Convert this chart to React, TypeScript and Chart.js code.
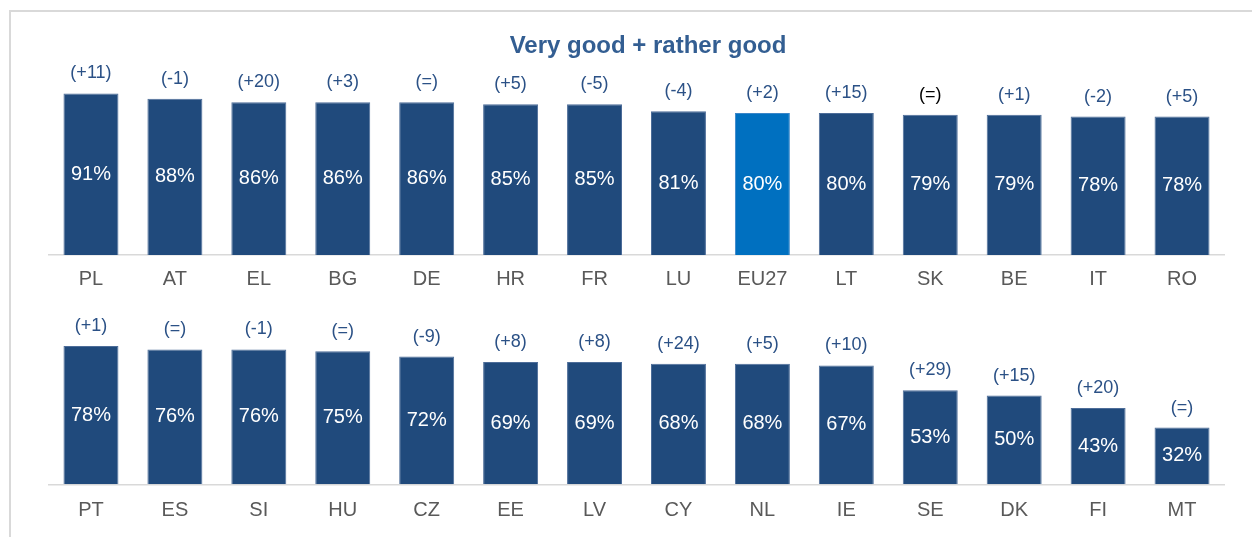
import React, { useEffect, useRef } from "react";
import { Chart, registerables } from "chart.js";

Chart.register(...registerables);

const TITLE = "Very good + rather good";

const topCategories = ["PL", "AT", "EL", "BG", "DE", "HR", "FR", "LU", "EU27", "LT", "SK", "BE", "IT", "RO"];
const topValues = [91, 88, 86, 86, 86, 85, 85, 81, 80, 80, 79, 79, 78, 78];
const topDeltas = ["(+11)", "(-1)", "(+20)", "(+3)", "(=)", "(+5)", "(-5)", "(-4)", "(+2)", "(+15)", "(=)", "(+1)", "(-2)", "(+5)"];

const bottomCategories = ["PT", "ES", "SI", "HU", "CZ", "EE", "LV", "CY", "NL", "IE", "SE", "DK", "FI", "MT"];
const bottomValues = [78, 76, 76, 75, 72, 69, 69, 68, 68, 67, 53, 50, 43, 32];
const bottomDeltas = ["(+1)", "(=)", "(-1)", "(=)", "(-9)", "(+8)", "(+8)", "(+24)", "(+5)", "(+10)", "(+29)", "(+15)", "(+20)", "(=)"];

const FONT = "'Liberation Sans', Arial, sans-serif";
const BAR = "#204a7c";
const EU = "#0070c0";
const DELTA = "#2b5186";

function makeLabelPlugin(deltas: string[], categories: string[], withTitle: boolean) {
  return {
    id: "labels" + (withTitle ? "Top" : "Bottom"),
    afterDatasetsDraw(chart: any) {
      const ctx = chart.ctx;
      const meta = chart.getDatasetMeta(0);
      const data = chart.data.datasets[0].data as number[];
      ctx.save();
      ctx.textAlign = "center";
      ctx.textBaseline = "middle";
      meta.data.forEach((bar: any, i: number) => {
        const { x, y, base } = bar.getProps(["x", "y", "base"], true);
        ctx.fillStyle = "#ffffff";
        ctx.font = `20px ${FONT}`;
        ctx.fillText(`${data[i]}%`, x, (y + base) / 2);
        ctx.fillStyle = categories[i] === "SK" ? "#000000" : DELTA;
        ctx.font = `18px ${FONT}`;
        ctx.fillText(deltas[i], x, y - 20);
      });
      if (withTitle) {
        ctx.fillStyle = "#335e92";
        ctx.font = `bold 24px ${FONT}`;
        ctx.fillText(TITLE, 648, 46);
      }
      ctx.restore();
    },
  };
}

function buildConfig(categories: string[], values: number[], deltas: string[], pad: any, tickPad: number, withTitle: boolean): any {
  return {
    type: "bar",
    data: {
      labels: categories,
      datasets: [
        {
          data: values,
          backgroundColor: categories.map((c) => (c === "EU27" ? EU : BAR)),
          borderColor: categories.map((c) => (c === "EU27" ? "#3a86c8" : "#4d6d99")),
          borderWidth: 1,
          borderSkipped: "bottom",
          barPercentage: 0.655,
          categoryPercentage: 1,
        },
      ],
    },
    options: {
      responsive: false,
      animation: false,
      layout: { padding: pad },
      plugins: { legend: { display: false }, tooltip: { enabled: false }, title: { display: false } },
      scales: {
        x: {
          grid: { display: true, drawOnChartArea: false, drawTicks: false },
          border: { display: true, color: "#d9d9d9", width: 1.5 },
          ticks: { color: "#595959", font: { family: FONT, size: 20 }, padding: tickPad },
        },
        y: { display: false, min: 0, max: 100 },
      },
    },
    plugins: [makeLabelPlugin(deltas, categories, withTitle)],
  };
}

export default function App() {
  const topRef = useRef<HTMLCanvasElement>(null);
  const bottomRef = useRef<HTMLCanvasElement>(null);

  useEffect(() => {
    const c1 = new Chart(
      topRef.current!,
      buildConfig(topCategories, topValues, topDeltas, { left: 49, right: 28, top: 77.5, bottom: 7 }, 12, true)
    );
    const c2 = new Chart(
      bottomRef.current!,
      buildConfig(bottomCategories, bottomValues, bottomDeltas, { left: 49, right: 28, top: 6.9, bottom: 1.3 }, 13.7, false)
    );
    return () => {
      c1.destroy();
      c2.destroy();
    };
  }, []);

  return (
    <div style={{ position: "absolute", left: 0, top: 0, width: 1252, height: 537, overflow: "hidden", background: "#ffffff" }}>
      <div
        style={{
          position: "absolute",
          left: 9,
          top: 10,
          width: 1300,
          height: 600,
          borderTop: "2px solid #d9d9d9",
          borderLeft: "2px solid #d9d9d9",
        }}
      />
      <canvas ref={topRef} width={1252} height={310} style={{ position: "absolute", left: 0, top: 0 }} />
      <canvas ref={bottomRef} width={1252} height={237} style={{ position: "absolute", left: 0, top: 300 }} />
    </div>
  );
}
